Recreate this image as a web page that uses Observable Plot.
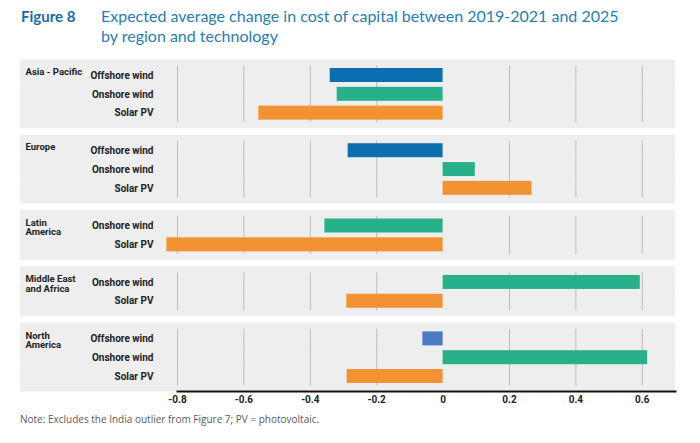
<!DOCTYPE html>
<html>
<head>
<meta charset="utf-8">
<script src="https://cdn.jsdelivr.net/npm/d3@7"></script>
<script src="https://cdn.jsdelivr.net/npm/@observablehq/plot@0.6"></script>
<style>
  body { margin: 0; background: #ffffff; width: 700px; height: 443px; overflow: hidden; }
  #title { position: relative; height: 52px; font-family: Lato, "Open Sans", sans-serif; }
  #fig { position: absolute; left: 21px; top: 7px; font-size: 15px; font-weight: 700; color: #1a6c9e; }
  #ttl { position: absolute; left: 101px; top: 6px; font-size: 16px; line-height: 19.5px; color: #2a7db0; }
  #note { margin: 2px 0 0 20px; font-family: "Open Sans", sans-serif; font-size: 10px; line-height: 14px; color: #5a5a5a; }
  svg { display: block; }
</style>
</head>
<body>
<div id="title">
  <span id="fig">Figure 8</span>
  <div id="ttl">Expected average change in cost of capital between 2019-2021 and 2025<br>by region and technology</div>
</div>
<div id="chart"></div>
<div id="note">Note: Excludes the India outlier from Figure 7; PV = photovoltaic.</div>
<script>
const regions = ["Asia - Pacific", "Europe", "Latin America", "Middle East and Africa", "North America"];
const regionLabels = ["Asia - Pacific", "Europe", "Latin\nAmerica", "Middle East\nand Africa", "North\nAmerica"];
const regionTechs = [
  ["Offshore wind", "Onshore wind", "Solar PV"],
  ["Offshore wind", "Onshore wind", "Solar PV"],
  ["Onshore wind", "Solar PV"],
  ["Onshore wind", "Solar PV"],
  ["Offshore wind", "Onshore wind", "Solar PV"]
];
const regionValues = [
  [-0.340, -0.319, -0.555],
  [-0.286, 0.097, 0.268],
  [-0.356, -0.832],
  [0.594, -0.290],
  [-0.061, 0.616, -0.289]
];
const xTicks = [-0.8, -0.6, -0.4, -0.2, 0, 0.2, 0.4, 0.6];
const techs = ["Offshore wind", "Onshore wind", "Solar PV"];
const techColors = ["#0b6eae", "#27b08a", "#f39232"];
const naOffshoreColor = "#4b7bc3";

const rows = [];
const domain = [];
regions.forEach((r, i) => {
  if (i > 0) domain.push("gap" + i);
  const n = regionTechs[i].length;
  regionTechs[i].forEach((t, j) => {
    const key = i + "|" + t;
    domain.push(key);
    rows.push({
      key, region: r, tech: t, value: regionValues[i][j],
      pos: j === 0 ? "first" : (j === n - 1 ? "last" : "mid"),
      color: (r === "North America" && t === "Offshore wind") ? naOffshoreColor : techColors[techs.indexOf(t)]
    });
  });
});
const firstRows = rows.filter(d => d.pos === "first");
const gridRows = [];
rows.forEach(d => xTicks.forEach(t => { if (t !== 0) gridRows.push({key: d.key, tick: t}); }));

const bg = "#eeeeee";
const fmt = d => d === 0 ? "0" : d.toFixed(1);
const plot = Plot.plot({
  width: 700,
  height: 358,
  marginLeft: 177,
  marginRight: 25,
  marginTop: 8,
  marginBottom: 19,
  style: {fontFamily: "Roboto, sans-serif", fontSize: "10px", fontWeight: 700, color: "#222", background: "transparent"},
  x: {domain: [-0.8, 0.7], ticks: xTicks, tickFormat: fmt, label: null},
  y: {domain, range: [16, 331], paddingInner: 0.256, paddingOuter: 0, round: false, label: null},
  marks: [
    Plot.barX(rows.filter(d => d.pos === "first"), {x1: -0.8, x2: 0.7, y: "key", fill: bg, insetLeft: -157, insetTop: -8.5, insetBottom: -2.6}),
    Plot.barX(rows.filter(d => d.pos === "mid"), {x1: -0.8, x2: 0.7, y: "key", fill: bg, insetLeft: -157, insetTop: -2.6, insetBottom: -2.6}),
    Plot.barX(rows.filter(d => d.pos === "last"), {x1: -0.8, x2: 0.7, y: "key", fill: bg, insetLeft: -157, insetTop: -2.6, insetBottom: -8.5}),
    Plot.tickX(gridRows, {x: "tick", y: "key", stroke: "#bdbdbd", strokeWidth: 1, strokeOpacity: 1, insetTop: -2.6, insetBottom: -2.6}),
    Plot.barX(rows, {x1: 0, x2: "value", y: "key", fill: "color"}),
    Plot.ruleX(rows, {x: 0, y: "key", stroke: "#1a1a1a", strokeWidth: 2, insetTop: -2.6, insetBottom: -2.6}),
    Plot.axisY({tickSize: 0, tickPadding: 24, ticks: rows.map(d => d.key), tickFormat: k => k.split("|")[1], label: null, fontWeight: 700, fill: "#222"}),
    Plot.axisX({tickSize: 0, tickPadding: 4, ticks: xTicks, tickFormat: fmt, label: null, fontWeight: 700, fill: "#222"}),
    Plot.text(firstRows, {y: "key", text: d => regionLabels[regions.indexOf(d.region)], frameAnchor: "left", dx: -152, dy: -7, textAnchor: "start", lineAnchor: "top", lineHeight: 1.0, fontSize: 9.5, fontWeight: 700, fill: "#222"}),
    Plot.frame({anchor: "bottom", stroke: "#111", strokeWidth: 2})
  ]
});
document.getElementById("chart").appendChild(plot);
</script>
</body>
</html>
